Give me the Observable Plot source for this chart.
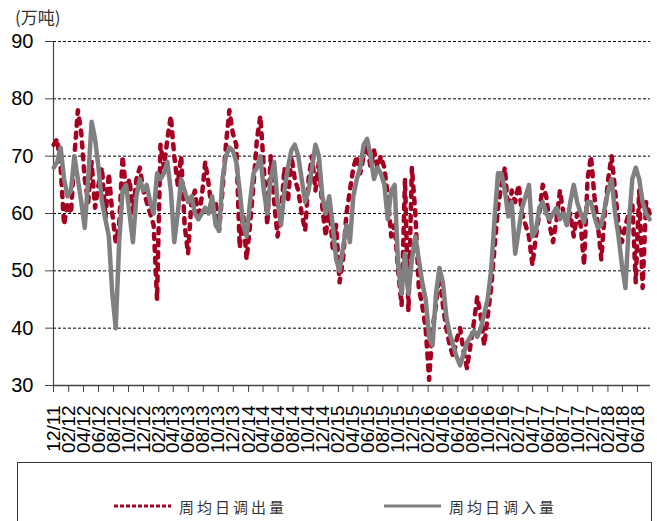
<!DOCTYPE html>
<html><head><meta charset="utf-8">
<script src="https://cdn.jsdelivr.net/npm/d3@7"></script>
<script src="https://cdn.jsdelivr.net/npm/@observablehq/plot@0.6"></script>
<style>
body{margin:0;background:#fff;}
#wrap{position:relative;width:657px;height:521px;overflow:hidden;background:#fff;font-family:"Liberation Sans",Arial,sans-serif;}
#chart{position:absolute;left:0;top:0;}
#unit{position:absolute;left:15px;top:4px;font-family:"Noto Sans CJK SC",sans-serif;font-size:17px;color:#333;}
#legend{position:absolute;left:17px;top:462px;width:635px;height:80px;border:1px solid #333;box-sizing:border-box;}
.item{position:absolute;top:32px;height:22px;display:flex;align-items:center;font-family:"Noto Sans CJK SC",sans-serif;font-size:15px;letter-spacing:3px;color:#333;}
.item svg{margin-right:8px;}
</style></head>
<body><div id="wrap"><div id="chart"></div><div id="unit">(万吨)</div><div id="legend"></div></div>
<script>
const seriesNames = ["周均日调出量", "周均日调入量"];
const unitLabel = "(万吨)";
const startDate = [2011, 11, 2];   // first biweekly observation (UTC y, m0, d)
const stepDays = 14;
const yTicks = [30, 40, 50, 60, 70, 80, 90];

// 周均日调出量 (red, dashed)
const outflow = [
72,73,68,58,62,60,70,78,74,66,
62,69,61,65,68,59,67,60,55,58,
70,64,66,60,66,68,64,62,60,58,
45,72,68,73,77,70,65,70,58,53,
62,64,59,63,69,65,60,62,57,64,
72,78,74,72,54,60,52,58,65,73,
77,68,58,70,62,56,60,68,62,70,
66,64,60,57,66,70,64,69,61,56,
62,54,58,48,52,60,64,68,70,67,
70,72,68,71,68,70,68,63,56,58,
50,44,66,43,68,60,47,44,40,31,
40,44,50,44,40,37,35,38,40,36,
33,37,41,45.5,42,37,42,47,54,61,
65,68,60,64,62,65,60,58,56,51,
56,60,65,63,58,55,59,64,60,58,
60,56,60,58,51,66,70,63,58,52,
60,66,70,64,58,55,58,60,62,48,
64,47,62,60
];
// 周均日调入量 (gray, solid)
const inflow = [
68,69,71.5,66,63,64,70,66,62,57.5,
66,76,73,68,62,59,56,46,40,55,
64,65,60,55,63,66,64,65,62,60,
67,66,67,69,64,55,60,66,64,62,
63,60,59,60,61,60,63,58,57,66,
70,71.5,71,69,64,58,56,62,67,68,
70,64,60,66,69,62,58,64,68,71,
72,70,66,62,64,68,72,70,63,60,
63,58,52,50,54,58,55,63,66,68,
72,73,70,66,68,67,65,59,64,65,
51,46,53,46,52,56,52,48,45,38.5,
37,46,50.5,48,42,39,37,35,33.5,35.5,
37.5,38.5,39.5,38.5,40,42.5,45,50,59,67,
67,64,59.5,62,53,57,61,63,65,56,
57,61,62,60,59,60,61,59,60,58,
62,65,62,60,58.5,62,62,59.5,57.5,58,
61,64,66,60,56,51,47,58,66,68,
66,62,60,59
];

const dateAt = i => new Date(Date.UTC(startDate[0], startDate[1], startDate[2] + stepDays * i));
const rows = [];
outflow.forEach((v, i) => rows.push({date: dateAt(i), value: v, series: seriesNames[0]}));
inflow.forEach((v, i) => rows.push({date: dateAt(i), value: v, series: seriesNames[1]}));

const x0 = new Date(Date.UTC(2011, 11, 1));
const x1 = new Date(Date.UTC(2018, 6, 24));
const xTicks = d3.utcMonth.range(x0, new Date(Date.UTC(2018, 6, 1)), 2);

const red = "#a50021", gray = "#808080";

const plot = Plot.plot({
  width: 657, height: 460,
  marginLeft: 53, marginRight: 7, marginTop: 41, marginBottom: 75,
  style: {fontFamily: "'Liberation Sans', Arial, sans-serif", color: "#000", background: "#fff"},
  x: {type: "utc", domain: [x0, x1], label: null},
  y: {domain: [30, 90], label: null},
  marks: [
    Plot.gridY(yTicks.filter(d => d > 30), {stroke: "#000", strokeOpacity: 1, strokeWidth: 1, strokeDasharray: "3,2"}),
    Plot.axisY({ticks: yTicks, label: null, tickSize: 8, tickPadding: 12, fontSize: 20, stroke: "#444", tickFormat: d => String(d)}),
    Plot.axisX({ticks: xTicks, label: null, tickFormat: d3.utcFormat("%m/%y"), tickRotate: -90, tickSize: 7, tickPadding: 13, fontSize: 19, stroke: "#444"}),
    Plot.ruleY([30], {stroke: "#444", strokeWidth: 1.5}),
    Plot.ruleX([x0], {stroke: "#444", strokeWidth: 1.2}),
    Plot.line(rows.filter(d => d.series === seriesNames[0]), {x: "date", y: "value", stroke: red, strokeWidth: 4.5, strokeDasharray: "5,7", strokeLinecap: "round"}),
    Plot.line(rows.filter(d => d.series === seriesNames[1]), {x: "date", y: "value", stroke: gray, strokeWidth: 4.5})
  ]
});
document.getElementById("chart").appendChild(plot);
document.getElementById("unit").textContent = unitLabel;

const legend = document.getElementById("legend");
const items = [
  {name: seriesNames[0], color: red, dash: "4,2", left: 96},
  {name: seriesNames[1], color: gray, dash: null, left: 366}
];
items.forEach(it => {
  const div = document.createElement("div");
  div.className = "item";
  div.style.left = it.left + "px";
  div.innerHTML = `<svg width="57" height="6"><line x1="0" x2="57" y1="3" y2="3" stroke="${it.color}" stroke-width="3" ${it.dash ? `stroke-dasharray="${it.dash}"` : ""}/></svg><span>${it.name}</span>`;
  legend.appendChild(div);
});
</script></body></html>
